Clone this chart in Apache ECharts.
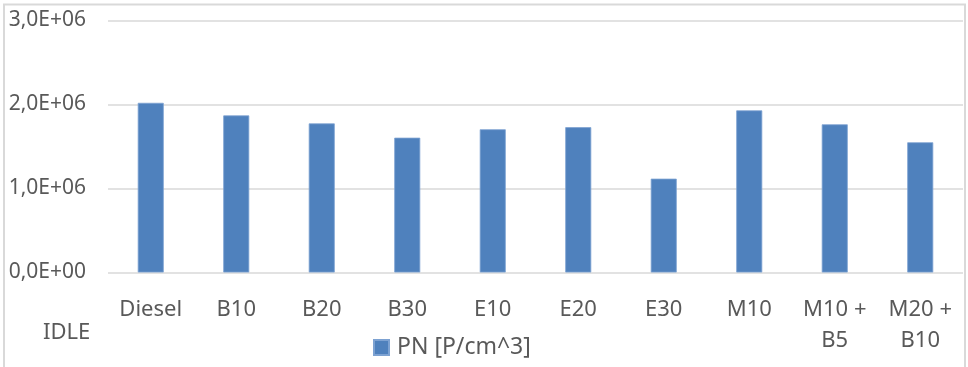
<!DOCTYPE html>
<html>
<head>
<meta charset="utf-8">
<script src="https://cdn.jsdelivr.net/npm/echarts@6/dist/echarts.min.js"></script>
<style>
html,body{margin:0;padding:0;background:#fff;}
#chart{width:968px;height:367px;}
</style>
</head>
<body>
<div id="chart"></div>
<script>
var categories = ['Diesel', 'B10', 'B20', 'B30', 'E10', 'E20', 'E30', 'M10', 'M10 + B5', 'M20 + B10'];
var pnValues = [2020000, 1870000, 1775000, 1605000, 1705000, 1730000, 1117000, 1930000, 1764000, 1550000];
var seriesName = 'PN [P/cm^3]';
var sideLabel = 'IDLE';
var yMin = 0, yMax = 3000000, yStep = 1000000;

function sciLabel(v) {
  var s = Number(v).toExponential(1);
  var parts = s.split('e');
  var mant = parts[0].replace('.', ',');
  var exp = parseInt(parts[1], 10);
  var sign = exp < 0 ? '-' : '+';
  var e = Math.abs(exp);
  return mant + 'E' + sign + (e < 10 ? '0' + e : '' + e);
}

var FONT = 'Noto Sans';
var TXT = '#595959';
var chart = echarts.init(document.getElementById('chart'), null, {renderer: 'canvas'});
chart.setOption({
  animation: false,
  backgroundColor: '#ffffff',
  textStyle: {fontFamily: FONT},
  grid: {left: 108, right: 5, top: 20.5, bottom: 94.5, containLabel: false},
  xAxis: {
    type: 'category',
    data: categories,
    axisLine: {show: false},
    axisTick: {show: false},
    axisLabel: {
      color: TXT, fontFamily: FONT, fontSize: 22, lineHeight: 31, margin: 22,
      interval: 0,
      formatter: function (v) { return v.replace(' + ', ' +\n'); }
    }
  },
  yAxis: {
    type: 'value',
    min: yMin, max: yMax, interval: yStep,
    axisLine: {show: false},
    axisTick: {show: false},
    splitLine: {lineStyle: {color: '#d9d9d9', width: 1.5}},
    axisLabel: {color: TXT, fontFamily: FONT, fontSize: 21, margin: 22, formatter: sciLabel}
  },
  legend: {
    data: [seriesName],
    left: 373, top: 336, padding: 0,
    icon: 'rect', itemWidth: 15, itemHeight: 15, itemGap: 10,
    textStyle: {color: TXT, fontFamily: FONT, fontSize: 23, padding: [0, 0, 0, 3]}
  },
  series: [{
    name: seriesName,
    type: 'bar',
    data: pnValues,
    barWidth: 26,
    itemStyle: {color: '#4f81bd', borderColor: '#7da2d2', borderWidth: 0.8}
  }],
  graphic: [
    {type: 'rect', silent: true, z: -1, shape: {x: 4, y: 4.5, width: 961, height: 420},
     style: {fill: 'none', stroke: '#d9d9d9', lineWidth: 2}},
    {type: 'text', left: 43, top: 322,
     style: {text: sideLabel, fill: TXT, font: '22px "Noto Sans"'}}
  ]
});
</script>
</body>
</html>
